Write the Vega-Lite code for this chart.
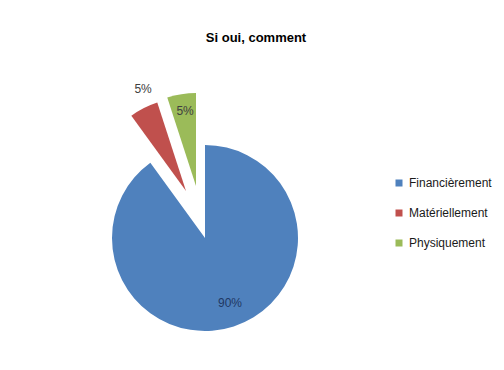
{
  "$schema": "https://vega.github.io/schema/vega-lite/v6.json",
  "autosize": "none",
  "width": 348,
  "height": 256,
  "padding": {"left": 31, "top": 110, "right": 125, "bottom": 4},
  "background": "white",
  "title": {
    "text": "Si oui, comment",
    "anchor": "middle",
    "frame": "group",
    "dx": 51,
    "offset": 27,
    "font": "Liberation Sans, sans-serif",
    "fontSize": 13,
    "fontWeight": "bold",
    "color": "#000000"
  },
  "data": {
    "values": [
      {"cat": "Financièrement", "v": 90, "label": "90%"},
      {"cat": "Matériellement", "v": 5, "label": "5%"},
      {"cat": "Physiquement", "v": 5, "label": "5%"}
    ]
  },
  "encoding": {
    "theta": {"field": "v", "type": "quantitative", "stack": true}
  },
  "layer": [
    {
      "mark": {"type": "arc", "radius": 93},
      "encoding": {
        "color": {
          "field": "cat",
          "type": "nominal",
          "scale": {
            "domain": ["Financièrement", "Matériellement", "Physiquement"],
            "range": ["#4F81BD", "#C0504D", "#9BBB59"]
          },
          "legend": {
            "title": null,
            "orient": "none",
            "legendX": 362,
            "legendY": 67,
            "padding": 0,
            "symbolType": "square",
            "symbolSize": 49,
            "symbolStrokeWidth": 0,
            "rowPadding": 18,
            "labelFont": "Liberation Sans, sans-serif",
            "labelFontSize": 12,
            "labelColor": "#1a1a1a",
            "labelOffset": 4
          }
        },
        "opacity": {"condition": {"test": "datum.cat === 'Financièrement'", "value": 1}, "value": 0}
      }
    },
    {
      "mark": {"type": "arc", "radius": 93, "xOffset": -19, "yOffset": -47},
      "encoding": {
        "color": {"field": "cat", "type": "nominal"},
        "opacity": {"condition": {"test": "datum.cat === 'Matériellement'", "value": 1}, "value": 0}
      }
    },
    {
      "mark": {"type": "arc", "radius": 93, "xOffset": -9, "yOffset": -52},
      "encoding": {
        "color": {"field": "cat", "type": "nominal"},
        "opacity": {"condition": {"test": "datum.cat === 'Physiquement'", "value": 1}, "value": 0}
      }
    },
    {
      "mark": {"type": "text", "radius": 68, "dx": 4, "font": "Liberation Sans, sans-serif", "fontSize": 12, "color": "#1F3864"},
      "encoding": {
        "detail": {"field": "cat", "type": "nominal"},
        "order": {"field": "cat", "type": "ordinal", "sort": "ascending"},
        "text": {"field": "label", "type": "nominal"},
        "opacity": {"condition": {"test": "datum.cat === 'Financièrement'", "value": 1}, "value": 0}
      }
    },
    {
      "mark": {"type": "text", "radius": 110, "xOffset": -19, "yOffset": -47, "dx": 7, "dy": -4, "font": "Liberation Sans, sans-serif", "fontSize": 12, "color": "#404040"},
      "encoding": {
        "detail": {"field": "cat", "type": "nominal"},
        "order": {"field": "cat", "type": "ordinal", "sort": "ascending"},
        "text": {"field": "label", "type": "nominal"},
        "opacity": {"condition": {"test": "datum.cat === 'Matériellement'", "value": 1}, "value": 0}
      }
    },
    {
      "mark": {"type": "text", "radius": 76, "xOffset": -9, "yOffset": -52, "dx": 1, "font": "Liberation Sans, sans-serif", "fontSize": 12, "color": "#404040"},
      "encoding": {
        "detail": {"field": "cat", "type": "nominal"},
        "order": {"field": "cat", "type": "ordinal", "sort": "ascending"},
        "text": {"field": "label", "type": "nominal"},
        "opacity": {"condition": {"test": "datum.cat === 'Physiquement'", "value": 1}, "value": 0}
      }
    }
  ],
  "config": {"view": {"stroke": null}}
}
